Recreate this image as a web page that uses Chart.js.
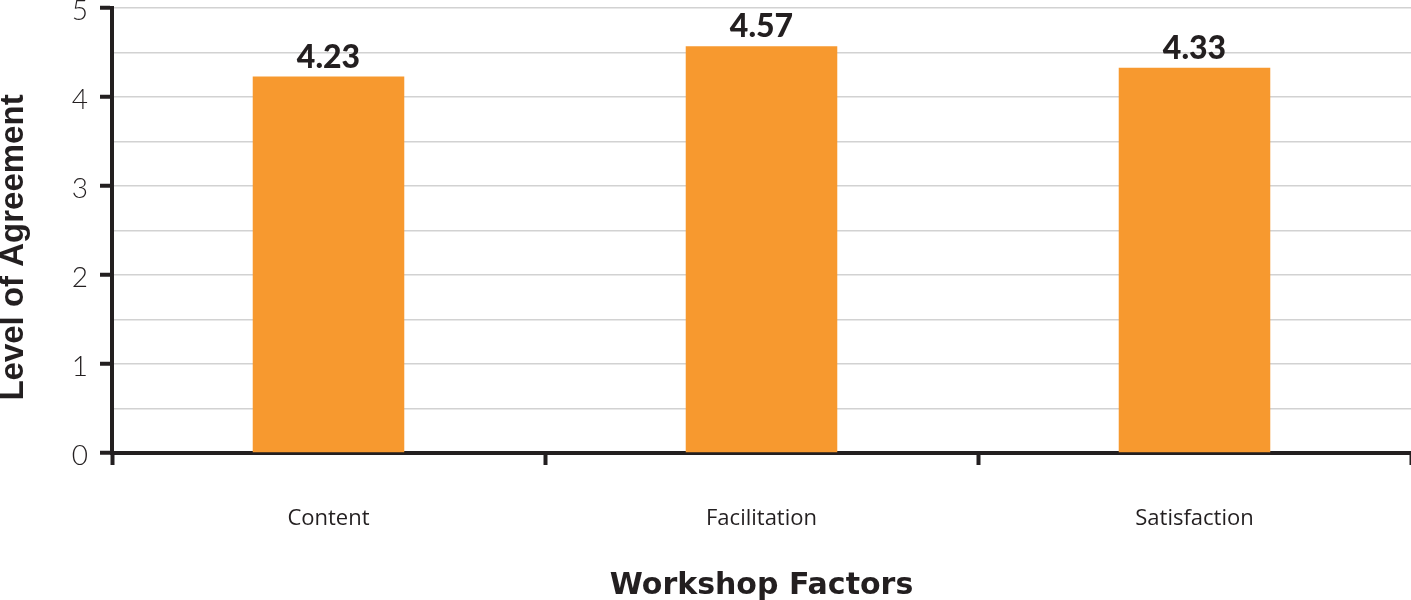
<!DOCTYPE html>
<html>
<head>
<meta charset="utf-8">
<script src="https://cdn.jsdelivr.net/npm/chart.js@4/dist/chart.umd.min.js"></script>
<style>
  html, body { margin:0; padding:0; background:#fff; }
  canvas { display:block; }
</style>
</head>
<body>
<canvas id="factorsChart" width="1411" height="600"></canvas>
<script>
// workshop evaluation – mean level of agreement per factor
const factors = ['Content', 'Facilitation', 'Satisfaction'];
const agreement = [4.23, 4.57, 4.33];
const yMin = 0, yMax = 5, yStep = 0.5;
const yTitle = 'Level of Agreement';
const xTitle = 'Workshop Factors';

const ink = '#231f20';
const barColor = '#f7992f';

// value on top of each bar
const valueLabels = {
  id:'valueLabels',
  afterDatasetsDraw(chart){
    const ctx = chart.ctx;
    const meta = chart.getDatasetMeta(0);
    ctx.save();
    ctx.font = '900 32px Lato';
    ctx.fillStyle = ink;
    ctx.textAlign = 'center';
    ctx.textBaseline = 'alphabetic';
    meta.data.forEach((bar, i)=>{
      ctx.fillText(agreement[i].toFixed(2), bar.x, bar.y - 9);
    });
    ctx.restore();
  }
};

// rotated y title, sitting a little below the middle of the axis
const sideTitle = {
  id:'sideTitle',
  afterDraw(chart){
    const {ctx, chartArea} = chart;
    ctx.save();
    ctx.translate(14, (chartArea.top + chartArea.bottom)/2 + 17);
    ctx.rotate(-Math.PI/2);
    ctx.font = 'bold 33px "Liberation Sans"';
    ctx.fillStyle = ink;
    ctx.textAlign = 'center';
    ctx.textBaseline = 'middle';
    ctx.fillText(yTitle, 0, 0);
    ctx.restore();
  }
};

const isWhole = v => Math.abs(v - Math.round(v)) < 1e-6;

new Chart(document.getElementById('factorsChart').getContext('2d'), {
  type:'bar',
  data:{ labels:factors, datasets:[{ data:agreement, backgroundColor:barColor, barPercentage:0.35, categoryPercentage:1 }]},
  options:{
    responsive:false,
    animation:false,
    layout:{ padding:0 },
    plugins:{ legend:{ display:false }, tooltip:{ enabled:false } },
    scales:{
      x:{
        grid:{ offset:true, drawOnChartArea:false, tickLength:12, tickWidth:4, tickColor:ink },
        border:{ color:ink, width:4 },
        ticks:{ color:ink, padding:41, font:{ family:'Open Sans', size:22 } },
        title:{ display:true, text:xTitle, color:ink, font:{ family:'DejaVu Sans', size:30, weight:'bold', lineHeight:1 }, padding:{ top:0, bottom:-1 } },
        afterFit(scale){ scale.height = 147; }
      },
      y:{
        min:yMin, max:yMax,
        grid:{
          color: c => c.tick && c.tick.value === 0 ? 'transparent' : '#d2d2d2',
          lineWidth:1.5,
          tickLength:12, tickWidth:4,
          tickColor: c => isWhole(c.tick.value) ? ink : 'transparent'
        },
        border:{ color:ink, width:4 },
        ticks:{
          stepSize:yStep, padding:12, color:ink, labelOffset:3,
          font:{ family:'Lato', size:28, weight:300 },
          callback: v => isWhole(v) ? v : ''
        },
        afterFit(scale){ scale.width = 112; scale.paddingTop = 8; }
      }
    }
  },
  plugins:[valueLabels, sideTitle]
});
</script>
</body>
</html>
